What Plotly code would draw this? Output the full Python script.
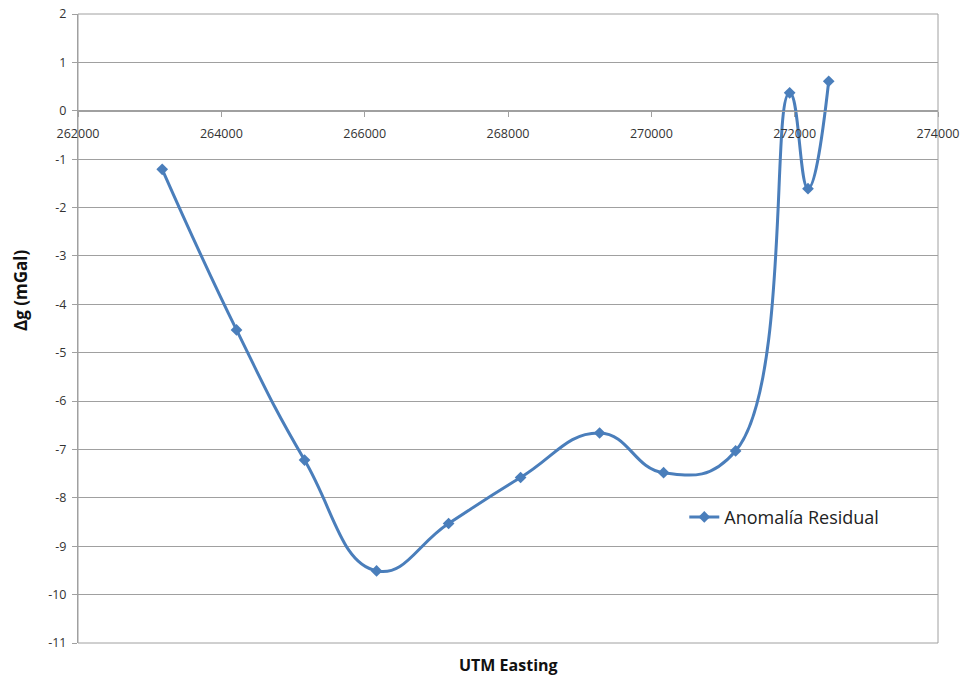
import plotly.graph_objects as go

# Residual gravity anomaly profile along UTM easting
easting = [263175, 264212, 265161, 266166, 267171, 268176,
           269278, 270171, 271176, 271930, 272186, 272475]
anomaly = [-1.21, -4.53, -7.22, -9.51, -8.53, -7.58,
           -6.66, -7.48, -7.03, 0.37, -1.61, 0.61]

x_range = [262000, 274000]
y_range = [-11, 2]
y_ticks = list(range(-11, 3))
y_tick_labels = [str(v) for v in y_ticks]

series_name = "Anomalía Residual"
x_title = "UTM Easting"
y_title = "Δg (mGal)"

line_color = "#4A7EBB"
grid_color = "#A0A0A0"
text_color = "#333333"

fig = go.Figure()
fig.add_trace(go.Scatter(
    x=easting, y=anomaly, name=series_name,
    mode="lines+markers",
    line=dict(color=line_color, width=3, shape="spline", smoothing=1.3),
    marker=dict(symbol="diamond", size=9, color=line_color),
    showlegend=True,
))

# x axis drawn across the plot at y = 0
zero_pos = (0 - y_range[0]) / (y_range[1] - y_range[0])

fig.update_layout(
    width=963, height=679,
    margin=dict(l=78, r=25, t=14, b=36),
    paper_bgcolor="white", plot_bgcolor="white",
    font=dict(family="Open Sans", size=12, color=text_color),
    xaxis=dict(
        range=x_range, dtick=2000, tick0=262000, tickformat="d",
        showgrid=False, zeroline=False, automargin=False,
        showline=True, linecolor=grid_color, linewidth=1,
        ticks="outside", ticklen=5, tickcolor=grid_color,
        ticklabelstandoff=6,
        anchor="free", position=zero_pos,
        tickfont=dict(size=12.5, color=text_color),
    ),
    yaxis=dict(
        range=y_range, tickvals=y_ticks, ticktext=y_tick_labels,
        showgrid=True, gridcolor=grid_color, gridwidth=1,
        zeroline=False, automargin=False,
        showline=True, linecolor=grid_color, linewidth=1,
        ticks="outside", ticklen=5, tickcolor=grid_color,
        ticklabelstandoff=3,
        tickfont=dict(size=12.5, color=text_color),
    ),
    legend=dict(
        x=0.705, y=0.20, xanchor="left", yanchor="middle",
        bgcolor="rgba(0,0,0,0)",
        font=dict(family="Open Sans", size=18, color="#222222"),
    ),
    shapes=[dict(
        type="rect", xref="x domain", yref="y domain",
        x0=0, x1=1, y0=0, y1=1,
        line=dict(color=grid_color, width=1), layer="below",
    )],
    annotations=[
        dict(text=x_title, xref="paper", yref="paper", x=0.5, y=-0.0355,
             xanchor="center", yanchor="middle", showarrow=False,
             font=dict(family="Open Sans", size=16, color="#111111",
                       weight="bold")),
        dict(text=y_title, xref="paper", yref="paper", x=-0.066, y=0.56,
             xanchor="center", yanchor="middle", textangle=-90,
             showarrow=False,
             font=dict(family="Open Sans", size=17, color="#111111",
                       weight="bold")),
    ],
)

fig.write_html("out.html")
